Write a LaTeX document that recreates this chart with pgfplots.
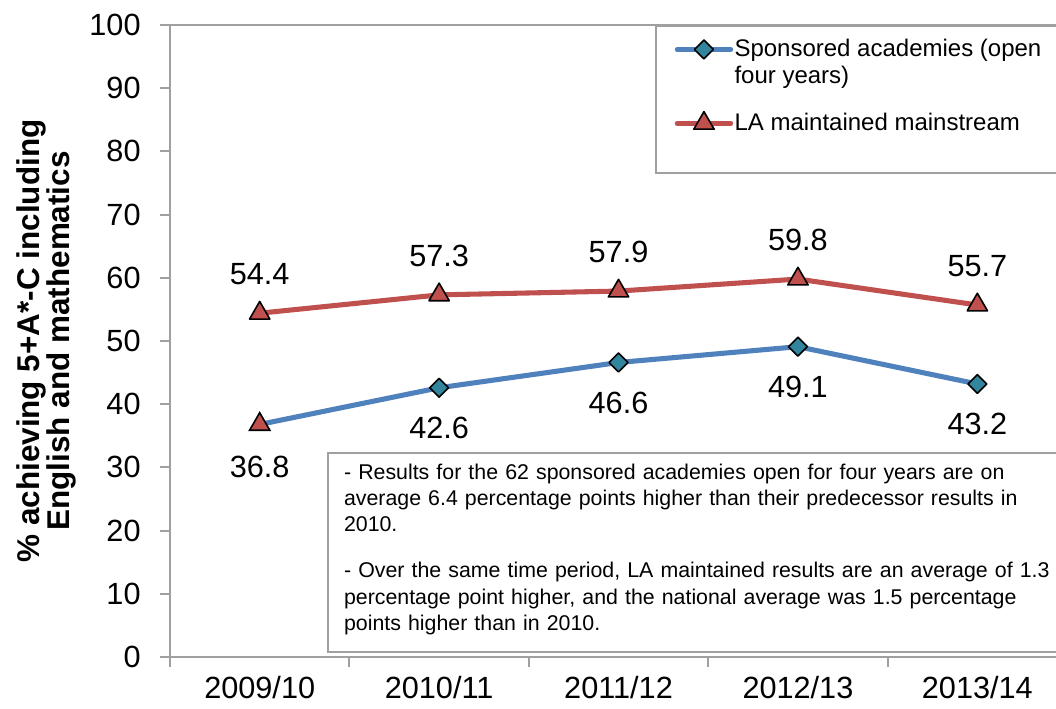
\documentclass[border=0pt]{standalone}
\usepackage{pgfplots}
\pgfplotsset{compat=1.18}
\usepackage{fontspec}
\setmainfont{Liberation Sans}
\definecolor{blueline}{HTML}{4F81BD}
\definecolor{redline}{HTML}{C0504D}
\definecolor{tealfill}{HTML}{31859C}
\definecolor{axgray}{HTML}{A0A0A0}

\begin{document}
\begin{tikzpicture}
\path[use as bounding box, clip] (-63.75pt,-19.125pt) rectangle (332.25pt,246.375pt);
\begin{axis}[
  at={(0pt,0pt)}, anchor=south west,
  scale only axis, width=336.4pt, height=237pt,
  xmin=-0.5, xmax=4.5, ymin=0, ymax=100,
  xtick={-0.5,0.5,1.5,2.5,3.5,4.5},
  x tick label as interval,
  xticklabels={2009/10,2010/11,2011/12,2012/13,2013/14},
  ytick={0,10,...,100},
  xtick pos=lower, ytick pos=left,
  tick align=outside,
  major tick length=3.75pt,
  axis line style={axgray, line width=0.8pt},
  tick style={axgray, line width=0.8pt},
  ticklabel style={font=\fontsize{11.5}{13}\selectfont, text=black},
  yticklabel style={xshift=-3.75pt},
  /pgf/number format/assume math mode=true,
  ylabel={\% achieving 5+A*-C including\\English and mathematics},
  ylabel style={font=\bfseries\fontsize{11.8}{11.3}\selectfont, align=center,
    at={(axis description cs:-0.138,0.5)}, anchor=center, rotate=0},
  legend style={at={(rel axis cs:0.5407,1)}, anchor=north west,
    draw=axgray, line width=0.8pt, fill=white,
    font=\fontsize{9}{10.1}\selectfont,
    inner xsep=7pt, inner ysep=2.5pt, row sep=3.5pt, column sep=0pt,
    nodes={inner xsep=0.5pt, inner ysep=2pt, text depth=},
    cells={anchor=base west}},
  legend image code/.code={\draw[#1] (0pt,2.8pt) -- (20pt,2.8pt);
     \draw[#1, mark indices={1}] plot coordinates {(10pt,2.8pt)};},
  nodes near coords,
  every node near coord/.append style={font=\fontsize{11.5}{13}\selectfont, text=black, anchor=center},
]
\addplot[blueline, line width=1.9pt, line cap=round, line join=round,
  mark=square*, mark size=2.5pt, mark indices={2,3,4,5},
  mark options={fill=tealfill, draw=black, line width=0.6pt, rotate=45},
  every node near coord/.append style={yshift=-15pt}]
  coordinates {(0,36.8) (1,42.6) (2,46.6) (3,49.1) (4,43.2)};
\addlegendentry{\begin{tabular}[t]{@{}l@{}}Sponsored academies (open\\four years)\end{tabular}}
\addplot[redline, line width=1.9pt, line cap=round, line join=round,
  mark=triangle*, mark size=4.4pt,
  mark options={fill=redline, draw=black, line width=0.6pt},
  every node near coord/.append style={yshift=14.5pt}]
  coordinates {(0,54.4) (1,57.3) (2,57.9) (3,59.8) (4,55.7)};
\addlegendentry{\begin{tabular}[t]{@{}l@{}}LA maintained mainstream\end{tabular}\rule[-11.2pt]{0pt}{0pt}}
\addplot[only marks, forget plot, mark=triangle*, mark size=4.4pt,
  mark options={fill=redline, draw=black, line width=0.6pt},
  every node near coord/.append style={yshift=-16pt}]
  coordinates {(0,36.8)};
\node[draw=axgray, line width=0.8pt, fill=white, anchor=north west, align=left,
  text width=285pt, inner xsep=6pt, inner ysep=4.1pt, text depth=60.5pt,
  font=\fontsize{8}{9.85}\selectfont]
  at (rel axis cs:0.175,0.3244)
  {- Results for the 62 sponsored academies open for four years are on\\
   average 6.4 percentage points higher than their predecessor results in\\
   2010.\\[7.4pt]
   - Over the same time period, LA maintained results are an average of 1.3\\
   percentage point higher, and the national average was 1.5 percentage\\
   points higher than in 2010.};
\end{axis}
\end{tikzpicture}
\end{document}
